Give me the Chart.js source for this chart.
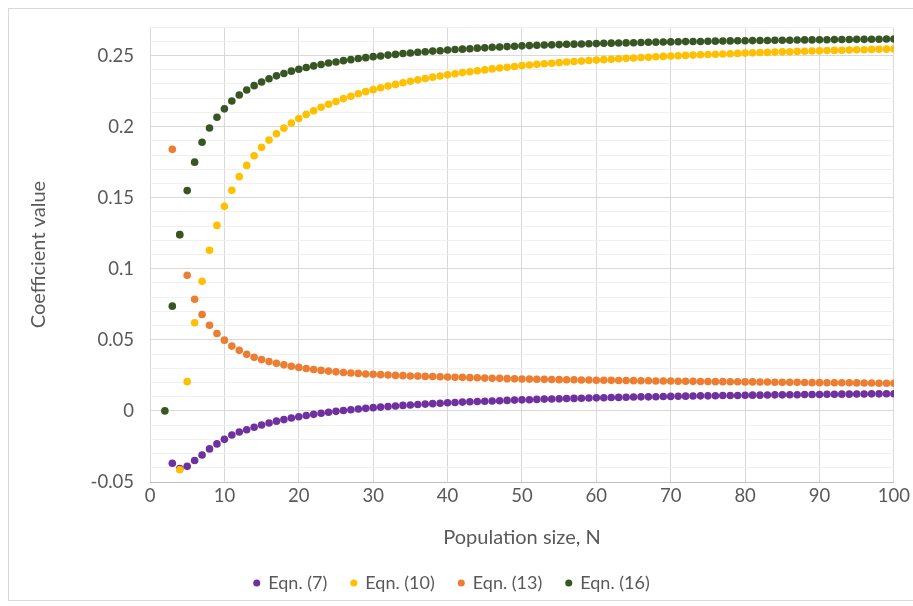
<!DOCTYPE html>
<html>
<head>
<meta charset="utf-8">
<script src="https://cdn.jsdelivr.net/npm/chart.js@4/dist/chart.umd.min.js"></script>
<style>
html,body{margin:0;padding:0;background:#ffffff;}
#wrap{position:relative;width:913px;height:606px;}
canvas{display:block;}
</style>
</head>
<body>
<div id="wrap"><canvas id="c" width="913" height="606"></canvas></div>
<script>
// Population size N (x values)
const populationN = [2,3,4,5,6,7,8,9,10,11,12,13,14,15,16,17,18,19,20,21,22,23,24,25,26,27,28,29,30,31,32,33,34,35,36,37,38,39,40,41,42,43,44,45,46,47,48,49,50,51,52,53,54,55,56,57,58,59,60,61,62,63,64,65,66,67,68,69,70,71,72,73,74,75,76,77,78,79,80,81,82,83,84,85,86,87,88,89,90,91,92,93,94,95,96,97,98,99,100];

// Eqn. (7) — purple
const eqn7 = [null,-0.0368,-0.0405,-0.0390,-0.0349,-0.0310,-0.0267,-0.0232,-0.0200,-0.0169,-0.0148,-0.0132,-0.0115,-0.0099,-0.0085,-0.0072,-0.0061,-0.0050,-0.0041,-0.0032,-0.0024,-0.0016,-0.0009,-0.0003,0.0003,0.0008,0.0014,0.0018,0.0023,0.0027,0.0031,0.0035,0.0039,0.0042,0.0045,0.0048,0.0051,0.0054,0.0057,0.0059,0.0062,0.0064,0.0066,0.0068,0.0070,0.0072,0.0074,0.0076,0.0078,0.0079,0.0081,0.0083,0.0084,0.0085,0.0087,0.0088,0.0089,0.0091,0.0092,0.0093,0.0094,0.0095,0.0096,0.0098,0.0099,0.0099,0.0100,0.0101,0.0102,0.0103,0.0104,0.0105,0.0106,0.0106,0.0107,0.0108,0.0109,0.0109,0.0110,0.0111,0.0111,0.0112,0.0113,0.0113,0.0114,0.0114,0.0115,0.0116,0.0116,0.0117,0.0117,0.0118,0.0118,0.0119,0.0119,0.0120,0.0120,0.0121,0.0121];

// Eqn. (10) — yellow
const eqn10 = [null,null,-0.0414,0.0206,0.0620,0.0912,0.1130,0.1305,0.1439,0.1552,0.1648,0.1727,0.1795,0.1854,0.1905,0.1950,0.1989,0.2025,0.2057,0.2086,0.2112,0.2136,0.2157,0.2177,0.2197,0.2214,0.2231,0.2246,0.2260,0.2273,0.2286,0.2297,0.2309,0.2319,0.2329,0.2338,0.2348,0.2356,0.2364,0.2372,0.2380,0.2386,0.2393,0.2399,0.2406,0.2412,0.2418,0.2423,0.2429,0.2433,0.2438,0.2442,0.2446,0.2450,0.2454,0.2458,0.2461,0.2465,0.2468,0.2471,0.2474,0.2477,0.2480,0.2483,0.2486,0.2488,0.2491,0.2494,0.2496,0.2498,0.2501,0.2503,0.2505,0.2507,0.2509,0.2511,0.2513,0.2515,0.2517,0.2519,0.2521,0.2522,0.2524,0.2526,0.2527,0.2529,0.2530,0.2532,0.2533,0.2535,0.2536,0.2537,0.2539,0.2540,0.2541,0.2543,0.2544,0.2545,0.2546];

// Eqn. (13) — orange
const eqn13 = [null,0.1840,0.1240,0.0954,0.0786,0.0678,0.0603,0.0545,0.0498,0.0456,0.0426,0.0398,0.0378,0.0361,0.0347,0.0335,0.0324,0.0314,0.0306,0.0298,0.0291,0.0285,0.0280,0.0275,0.0270,0.0267,0.0264,0.0260,0.0258,0.0255,0.0253,0.0250,0.0248,0.0246,0.0245,0.0243,0.0242,0.0240,0.0239,0.0237,0.0236,0.0234,0.0233,0.0231,0.0230,0.0229,0.0227,0.0226,0.0225,0.0224,0.0223,0.0222,0.0221,0.0220,0.0219,0.0219,0.0218,0.0217,0.0216,0.0216,0.0215,0.0214,0.0214,0.0213,0.0212,0.0212,0.0211,0.0211,0.0210,0.0209,0.0209,0.0208,0.0207,0.0207,0.0206,0.0206,0.0205,0.0205,0.0204,0.0204,0.0203,0.0203,0.0202,0.0201,0.0201,0.0201,0.0200,0.0199,0.0199,0.0198,0.0198,0.0198,0.0198,0.0197,0.0196,0.0196,0.0195,0.0195,0.0195];

// Eqn. (16) — dark green
const eqn16 = [0,0.0737,0.1240,0.1550,0.1750,0.1890,0.1990,0.2066,0.2125,0.2180,0.2222,0.2258,0.2288,0.2314,0.2337,0.2357,0.2374,0.2390,0.2403,0.2416,0.2427,0.2437,0.2447,0.2455,0.2464,0.2471,0.2479,0.2485,0.2492,0.2497,0.2503,0.2508,0.2514,0.2518,0.2523,0.2527,0.2531,0.2534,0.2539,0.2542,0.2545,0.2548,0.2552,0.2554,0.2558,0.2560,0.2563,0.2565,0.2568,0.2570,0.2572,0.2574,0.2575,0.2577,0.2579,0.2580,0.2581,0.2583,0.2584,0.2586,0.2587,0.2588,0.2589,0.2590,0.2592,0.2593,0.2594,0.2595,0.2596,0.2597,0.2598,0.2599,0.2599,0.2600,0.2601,0.2602,0.2603,0.2604,0.2604,0.2605,0.2606,0.2606,0.2607,0.2608,0.2608,0.2609,0.2610,0.2610,0.2611,0.2611,0.2612,0.2613,0.2613,0.2614,0.2614,0.2615,0.2615,0.2616,0.2616];

const seriesNames = ['Eqn. (7)', 'Eqn. (10)', 'Eqn. (13)', 'Eqn. (16)'];
const seriesColors = ['#7030A0', '#FFC000', '#ED7D31', '#375623'];
const seriesValues = [eqn7, eqn10, eqn13, eqn16];
const xAxisTitle = 'Population size, N';
const yAxisTitle = 'Coefficient value';

const FONT = 'Lato, "Open Sans", sans-serif';
const TEXT = '#595959';

function toPoints(vals) {
  const pts = [];
  populationN.forEach((n, i) => { if (vals[i] !== null) pts.push({x: n, y: vals[i]}); });
  return pts;
}

const datasets = seriesValues.map((vals, k) => ({
  label: seriesNames[k],
  data: toPoints(vals),
  backgroundColor: seriesColors[k],
  borderColor: seriesColors[k],
  borderWidth: 0,
  pointRadius: 3.8,
  pointHoverRadius: 3.8,
  pointStyle: 'circle',
  showLine: false,
  order: 3 - k
}));

const framePlugin = {
  id: 'frame',
  beforeDraw(chart) {
    const ctx = chart.ctx;
    ctx.save();
    ctx.fillStyle = '#ffffff';
    ctx.fillRect(0, 0, chart.width, chart.height);
    ctx.strokeStyle = '#d9d9d9';
    ctx.lineWidth = 1;
    ctx.strokeRect(8.5, 8.5, 910, 592);
    ctx.restore();
  }
};

new Chart(document.getElementById('c'), {
  type: 'scatter',
  data: { datasets },
  plugins: [framePlugin],
  options: {
    responsive: false,
    animation: false,
    devicePixelRatio: 1,
    layout: { padding: { left: 8, right: 17, top: 26.5, bottom: 4 } },
    plugins: {
      tooltip: { enabled: false },
      legend: {
        position: 'bottom',
        labels: {
          usePointStyle: true,
          pointStyle: 'circle',
          boxWidth: 5,
          boxHeight: 5,
          padding: 24,
          color: TEXT,
          font: { family: FONT, size: 18 },
          sort: (a, b) => a.datasetIndex - b.datasetIndex
        }
      }
    },
    scales: {
      x: {
        type: 'linear',
        min: 0,
        max: 100,
        afterFit: s => { s.height = 68; },
        ticks: { stepSize: 10, color: TEXT, font: { family: FONT, size: 18.5 }, padding: 3 },
        grid: { color: '#d9d9d9', drawTicks: false },
        border: { color: '#bfbfbf' },
        title: { display: true, text: xAxisTitle, color: TEXT, font: { family: FONT, size: 20 }, padding: { top: 0, bottom: 0 } }
      },
      y: {
        type: 'linear',
        min: -0.05,
        max: 0.27,
        afterFit: s => { s.width = 142; },
        ticks: {
          stepSize: 0.01,
          autoSkip: false,
          color: TEXT,
          font: { family: FONT, size: 18.5 },
          padding: 16,
          callback: v => {
            const h = Math.round(v * 100);
            if (h % 5 !== 0 || h > 25) return '';
            return String(parseFloat((h / 100).toFixed(2)));
          }
        },
        grid: {
          drawTicks: false,
          color: c => {
            const h = Math.round(c.tick.value * 100);
            return (h % 5 === 0) ? '#d9d9d9' : '#f0f0f0';
          }
        },
        border: { display: false },
        title: { display: true, text: yAxisTitle, color: TEXT, font: { family: FONT, size: 20 }, padding: { top: 19, bottom: 19 } }
      }
    }
  }
});
</script>
</body>
</html>
